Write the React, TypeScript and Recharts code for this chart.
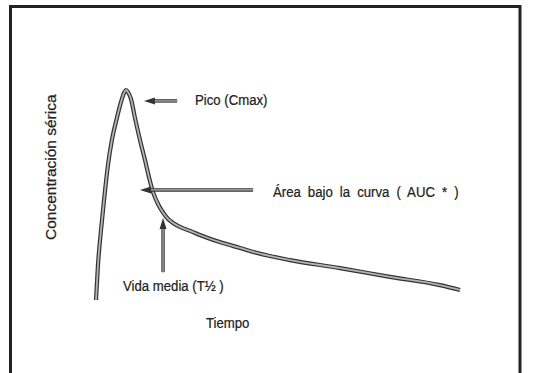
import { LineChart, Line, XAxis, YAxis, ReferenceLine } from "recharts";

// time (h) and serum concentration (% of Cmax)
const times = [
  0, 0.13, 0.33, 0.53, 0.79, 1.05, 1.38, 1.65, 1.85, 1.98, 2.11, 2.31, 2.57, 2.9, 3.23, 3.49,
  3.76, 4.09, 4.35, 4.75, 5.08, 5.54, 6.2, 7.19, 8.37, 9.49, 10.62, 12.79, 16.09, 19.38, 22.68, 24,
];
const concentration = [
  0, 16.7, 33.3, 47.6, 64.3, 76.2, 86.7, 94.3, 98.6, 100, 99.0, 95.7, 86.7, 76.2, 66.7, 58.6,
  51.4, 45.7, 42.4, 38.6, 36.7, 34.8, 32.9, 30.0, 27.1, 24.8, 22.4, 19.0, 15.2, 11.0, 7.1, 4.8,
];

// arrows: [tail, head] in data units
const picoArrow = [{ x: 5.34, y: 94.8 }, { x: 3.16, y: 94.8 }];
const aucArrow = [{ x: 10.35, y: 52.4 }, { x: 2.9, y: 52.4 }];
const halfLifeArrow = [{ x: 4.42, y: 13.3 }, { x: 4.42, y: 39 }];

const data = times.map((t, i) => ({ t, c: concentration[i] }));

const INK = "#222";

function Arrow(p: any) {
  const { x1, y1, x2, y2 } = p;
  const dx = x2 - x1;
  const dy = y2 - y1;
  const len = Math.hypot(dx, dy) || 1;
  const ux = dx / len, uy = dy / len;
  const nx = -uy, ny = ux;
  const headLen = 11, half = 3.5;
  const bx = x2 - ux * headLen, by = y2 - uy * headLen;
  const sx = x2 - ux * (headLen - 2), sy = y2 - uy * (headLen - 2);
  return (
    <g>
      <line x1={x1} y1={y1} x2={sx} y2={sy} stroke="#333" strokeWidth={3.4} />
      <line x1={x1 - ux} y1={y1 - uy} x2={sx} y2={sy} stroke="#bbb" strokeWidth={1.2} />
      <polygon
        points={`${x2},${y2} ${bx + nx * half},${by + ny * half} ${bx - nx * half},${by - ny * half}`}
        fill="#333"
      />
    </g>
  );
}

function Txt({ x, y, children, ws = 0 }: { x: number; y: number; children: any; ws?: number }) {
  return (
    <text
      transform={`translate(${x},${y}) scale(0.85,1)`}
      fontFamily="Liberation Sans, Arial, sans-serif"
      fontSize={15.5}
      fill={INK}
      stroke={INK}
      strokeWidth={0.25}
      style={{ wordSpacing: ws }}
    >
      {children}
    </text>
  );
}

export default function App() {
  return (
    <div style={{ position: "absolute", left: 0, top: 0, width: 555, height: 373, background: "#fff" }}>
      <LineChart width={555} height={373} data={data} margin={{ top: 90, right: 95, bottom: 73, left: 96 }}>
        <rect x={10.5} y={6.5} width={509.5} height={420} fill="none" stroke={INK} strokeWidth={3} />
        <XAxis type="number" dataKey="t" domain={[0, 24]} hide />
        <YAxis type="number" domain={[0, 100]} hide />
        <Line
          type="monotone"
          dataKey="c"
          stroke="#333"
          strokeWidth={4.2}
          dot={false}
          activeDot={false}
          isAnimationActive={false}
        />
        <Line
          type="monotone"
          dataKey="c"
          stroke="#b4b4b4"
          strokeWidth={1.8}
          dot={false}
          activeDot={false}
          isAnimationActive={false}
        />
        <ReferenceLine segment={picoArrow} shape={Arrow} ifOverflow="visible" />
        <ReferenceLine segment={aucArrow} shape={Arrow} ifOverflow="visible" />
        <ReferenceLine segment={halfLifeArrow} shape={Arrow} ifOverflow="visible" />
        <Txt x={195} y={105}>Pico (Cmax)</Txt>
        <Txt x={273} y={197} ws={4}>Área bajo la curva ( AUC * )</Txt>
        <Txt x={123} y={291}>Vida media (T½ )</Txt>
        <Txt x={206} y={328}>Tiempo</Txt>
        <text
          transform="translate(56,240) rotate(-90)"
          fontFamily="Liberation Sans, Arial, sans-serif"
          fontSize={15.5}
          fill={INK}
          stroke={INK}
          strokeWidth={0.25}
        >
          Concentración sérica
        </text>
      </LineChart>
    </div>
  );
}
